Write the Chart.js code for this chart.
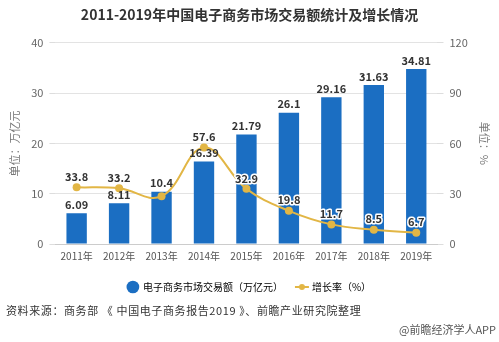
<!DOCTYPE html>
<html>
<head>
<meta charset="utf-8">
<script src="https://cdn.jsdelivr.net/npm/chart.js@4.4.0/dist/chart.umd.min.js"></script>
<style>
  html, body { margin:0; padding:0; background:#fff; }
  #wrap { position:relative; width:499px; height:342px; }
</style>
</head>
<body>
<div id="wrap"><canvas id="c" width="499" height="342"></canvas></div>
<script>
// data
const years = ['2011年','2012年','2013年','2014年','2015年','2016年','2017年','2018年','2019年']
const volume = [6.09, 8.11, 10.4, 16.39, 21.79, 26.1, 29.16, 31.63, 34.81]
const growth = [33.8, 33.2, 28.5, 57.6, 32.9, 19.8, 11.7, 8.5, 6.7]
const growthShown = [true, true, false, true, true, true, true, true, true]

const FONT = '"Noto Sans CJK SC", "Noto Sans", sans-serif'
const BLUE = '#1b6ec2'
const GOLD = '#e2b645'

// legend marker for the line: short line with a dot
const lineIcon = document.createElement('canvas')
lineIcon.width = 16; lineIcon.height = 8
{
    const x = lineIcon.getContext('2d')
    x.strokeStyle = GOLD; x.lineWidth = 2
    x.beginPath(); x.moveTo(1,4); x.lineTo(15,4); x.stroke()
    x.fillStyle = GOLD
    x.beginPath(); x.arc(8,4,3,0,Math.PI*2); x.fill()
}

const labelsPlugin = {
    id:'labels',
    afterDatasetsDraw(chart){
        const ctx = chart.ctx
        ctx.save()
        ctx.font = 'bold 11px ' + FONT
        ctx.textAlign = 'center'
        ctx.textBaseline = 'bottom'
        ctx.lineJoin = 'round'
        const bars = chart.getDatasetMeta(0).data
        bars.forEach((b,i) => {
            ctx.fillStyle = '#333'
            ctx.fillText(volume[i], b.x, b.y - 3)
        })
        const pts = chart.getDatasetMeta(1).data
        pts.forEach((p,i) => {
            if (!growthShown[i]) return
            ctx.strokeStyle = '#fff'
            ctx.lineWidth = 3
            ctx.strokeText(growth[i], p.x, p.y - 5)
            ctx.fillStyle = '#333'
            ctx.fillText(growth[i], p.x, p.y - 5)
        })
        ctx.restore()
    },
    afterDraw(chart){
        const ctx = chart.ctx
        ctx.save()
        ctx.fillStyle = '#333'
        ctx.font = '11px ' + FONT
        ctx.textBaseline = 'middle'
        ctx.textAlign = 'left'
        ctx.letterSpacing = '0.6px'
        ctx.fillText('资料来源：商务部 《 中国电子商务报告2019 》、前瞻产业研究院整理', 6, 311)
        ctx.letterSpacing = '0px'
        ctx.fillStyle = '#555'
        ctx.textAlign = 'right'
        ctx.fillText('@前瞻经济学人APP', 496, 330)
        ctx.restore()
    }
}

new Chart(document.getElementById('c'), {
    type:'bar',
    data:{
        labels: years,
        datasets:[{
            type:'bar',
            label:'电子商务市场交易额（万亿元）',
            data: volume,
            backgroundColor: BLUE,
            yAxisID:'y',
            categoryPercentage:1,
            barPercentage:0.48,
            order:2
        },{
            type:'line',
            label:'增长率（%）',
            data: growth,
            borderColor: GOLD,
            backgroundColor: GOLD,
            borderWidth:2,
            pointRadius:4,
            pointBackgroundColor: GOLD,
            pointBorderWidth:0,
            tension:0.4,
            yAxisID:'y1',
            order:1
        }]
    },
    options:{
        responsive:false,
        animation:false,
        layout:{ padding:{ top:4, bottom:40, left:4, right:4 }},
        plugins:{
            title:{
                display:true,
                text:'2011-2019年中国电子商务市场交易额统计及增长情况',
                color:'#333',
                font:{ family:FONT, size:14, weight:'bold' },
                padding:{ top:2, bottom:20 }
            },
            legend:{
                position:'bottom',
                labels:{
                    usePointStyle:true,
                    color:'#333',
                    font:{ family:FONT, size:10 },
                    padding:14,
                    boxHeight:9,
                    generateLabels(chart){
                        return [
                            { text:'电子商务市场交易额（万亿元）', fillStyle:BLUE, strokeStyle:BLUE, pointStyle:'circle', datasetIndex:0, lineWidth:0 },
                            { text:'增长率（%）', fillStyle:GOLD, strokeStyle:GOLD, pointStyle:lineIcon, datasetIndex:1, lineWidth:0 }
                        ]
                    }
                }
            },
            tooltip:{ enabled:false }
        },
        scales:{
            x:{
                grid:{ display:false, drawTicks:false },
                border:{ color:'#ccc' },
                ticks:{ color:'#555', font:{ family:FONT, size:10 }, maxRotation:0, padding:6 }
            },
            y:{
                position:'left',
                min:0, max:40,
                ticks:{ stepSize:10, color:'#666', font:{ family:FONT, size:11 }, padding:6 },
                grid:{ color:'#e3e3e3', tickLength:6, tickColor:'#ddd' },
                border:{ display:false },
                title:{ display:true, text:'单位：万亿元', color:'#777', font:{ family:FONT, size:11 } }
            },
            y1:{
                position:'right',
                min:0, max:120,
                ticks:{ stepSize:30, color:'#666', font:{ family:FONT, size:11 }, padding:6 },
                grid:{ drawOnChartArea:false, tickLength:6, tickColor:'#ddd' },
                border:{ display:false },
                title:{ display:true, text:'单位：%', color:'#777', font:{ family:FONT, size:11 } }
            }
        }
    },
    plugins:[labelsPlugin]
})
</script>
</body>
</html>
